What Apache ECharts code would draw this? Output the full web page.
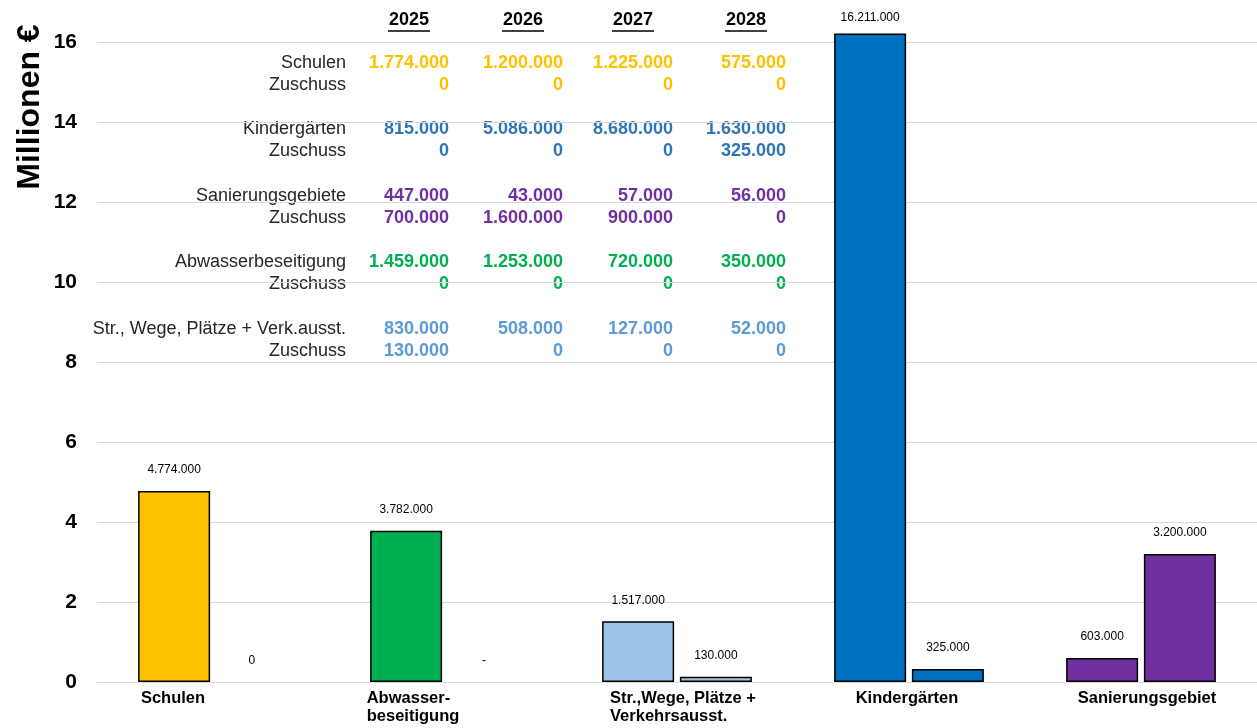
<!DOCTYPE html>
<html><head><meta charset="utf-8">
<script src="https://cdn.jsdelivr.net/npm/echarts@6/dist/echarts.min.js"></script>
<style>html,body{margin:0;padding:0;background:#fff}#c{width:1257px;height:728px}</style>
</head><body><div id="c"></div>
<script>
// ---- data ----
const categories = ['Schulen', 'Abwasser-\nbeseitigung', 'Str.,Wege, Plätze +\nVerkehrsausst.', 'Kindergärten', 'Sanierungsgebiet'];
const kosten = [4.774, 3.782, 1.517, 16.211, 0.603];          // Mio €
const zuschuss = [0, null, 0.130, 0.325, 3.200];              // Mio €, null = "-"
const yTicks = [0, 2, 4, 6, 8, 10, 12, 14, 16];

const years = ['2025', '2026', '2027', '2028'];
const rowNames = ['Schulen', 'Kindergärten', 'Sanierungsgebiete', 'Abwasserbeseitigung', 'Str., Wege, Plätze + Verk.ausst.'];
const zuschussLabel = 'Zuschuss';
const schulenKosten = [1774000, 1200000, 1225000, 575000];
const schulenZuschuss = [0, 0, 0, 0];
const kitaKosten = [815000, 5086000, 8680000, 1630000];
const kitaZuschuss = [0, 0, 0, 325000];
const sanierKosten = [447000, 43000, 57000, 56000];
const sanierZuschuss = [700000, 1600000, 900000, 0];
const abwasserKosten = [1459000, 1253000, 720000, 350000];
const abwasserZuschuss = [0, 0, 0, 0];
const strKosten = [830000, 508000, 127000, 52000];
const strZuschuss = [130000, 0, 0, 0];

// ---- styles / layout ----
const FONT = '"Liberation Sans", Arial, sans-serif';
const barColors = ['#FFC000', '#00B050', '#9DC3E6', '#0070C0', '#7030A0'];
const rowColors = ['#FFC000', '#2E75B6', '#7030A0', '#00B050', '#5B9BD5'];
const labelPad = [[0, 80, 0, 0], [0, 64, 0, 0], [0, 0, 0, 12], [0, 4, 0, 0], [0, 0, 0, 12]];
const colRight = [449, 563, 673, 786];
const rowLabelRight = 346;

function fmt(n) {
  return String(Math.round(n)).replace(/\B(?=(\d{3})+(?!\d))/g, '.');
}

const tableGroups = [
  [schulenKosten, schulenZuschuss],
  [kitaKosten, kitaZuschuss],
  [sanierKosten, sanierZuschuss],
  [abwasserKosten, abwasserZuschuss],
  [strKosten, strZuschuss]
];

const graphics = [];
// y axis name
graphics.push({
  type: 'text', x: 30, y: 107, rotation: Math.PI / 2,
  style: { text: 'Millionen €', align: 'center', verticalAlign: 'middle', fontWeight: 'bold', fontSize: 32, fontFamily: FONT, fill: '#000' }
});
// year headers
years.forEach((y, j) => {
  const cx = colRight[j] - 40;
  graphics.push({ type: 'text', x: cx, y: 20, style: { text: y, align: 'center', verticalAlign: 'middle', fontWeight: 'bold', fontSize: 18, fontFamily: FONT, fill: '#000' } });
  graphics.push({ type: 'line', shape: { x1: cx - 21, y1: 31, x2: cx + 21, y2: 31 }, style: { stroke: '#000', lineWidth: 1.5 } });
});
// table rows
tableGroups.forEach((grp, g) => {
  const y0 = 63 + g * 66.5;
  [rowNames[g], zuschussLabel].forEach((name, r) => {
    const yy = y0 + r * 22;
    graphics.push({ type: 'text', x: rowLabelRight, y: yy, style: { text: name, align: 'right', verticalAlign: 'middle', fontSize: 18, fontFamily: FONT, fill: '#262626' } });
    grp[r].forEach((v, j) => {
      graphics.push({ type: 'text', x: colRight[j], y: yy, style: { text: fmt(v), align: 'right', verticalAlign: 'middle', fontWeight: 'bold', fontSize: 18, fontFamily: FONT, fill: rowColors[g] } });
    });
  });
});

const rich = {};
labelPad.forEach((p, i) => {
  rich['c' + i] = { align: 'left', padding: p, fontWeight: 'bold', fontSize: 16.5, fontFamily: FONT, color: '#000', lineHeight: 18 };
});

const option = {
  animation: false,
  backgroundColor: '#fff',
  textStyle: { fontFamily: FONT },
  grid: { left: 97, top: 42, width: 1162, bottom: 46, containLabel: false },
  xAxis: {
    type: 'category',
    data: categories,
    axisLine: { show: true, lineStyle: { color: '#D9D9D9', width: 1 } },
    axisTick: { show: false },
    axisLabel: {
      interval: 0, margin: 7,
      formatter: (v, idx) => v.split('\n').map(l => '{c' + idx + '|' + l + '}').join('\n'),
      rich: rich
    }
  },
  yAxis: {
    type: 'value',
    min: yTicks[0], max: yTicks[yTicks.length - 1], interval: 2,
    axisLine: { show: false },
    axisTick: { show: false },
    splitLine: { lineStyle: { color: '#D9D9D9', width: 1 } },
    axisLabel: { margin: 20, fontSize: 21, fontWeight: 'bold', color: '#000', fontFamily: FONT }
  },
  series: [
    {
      type: 'bar', name: 'Kosten', clip: false,
      barWidth: 72, barGap: '8%',
      data: kosten.map((v, i) => ({ value: v, itemStyle: { color: barColors[i] }, label: i === 3 ? { distance: 10 } : undefined })),
      itemStyle: { borderColor: '#000', borderWidth: 1.5 },
      label: { show: true, position: 'top', distance: 15, fontSize: 12, color: '#000', fontFamily: FONT,
        formatter: p => fmt(kosten[p.dataIndex] * 1e6) }
    },
    {
      type: 'bar', name: 'Zuschuss', clip: false,
      barWidth: 72,
      data: zuschuss.map((v, i) => ({ value: v === null ? 0 : v, itemStyle: { color: barColors[i], borderWidth: v ? 1.5 : 0 } })),
      itemStyle: { borderColor: '#000', borderWidth: 1.5 },
      label: { show: true, position: 'top', distance: 15, fontSize: 12, color: '#000', fontFamily: FONT,
        formatter: p => zuschuss[p.dataIndex] === null ? '-' : fmt(zuschuss[p.dataIndex] * 1e6) }
    }
  ],
  graphic: graphics
};

const chart = echarts.init(document.getElementById('c'), null, { renderer: 'canvas' });
chart.setOption(option);
</script>
</body></html>
